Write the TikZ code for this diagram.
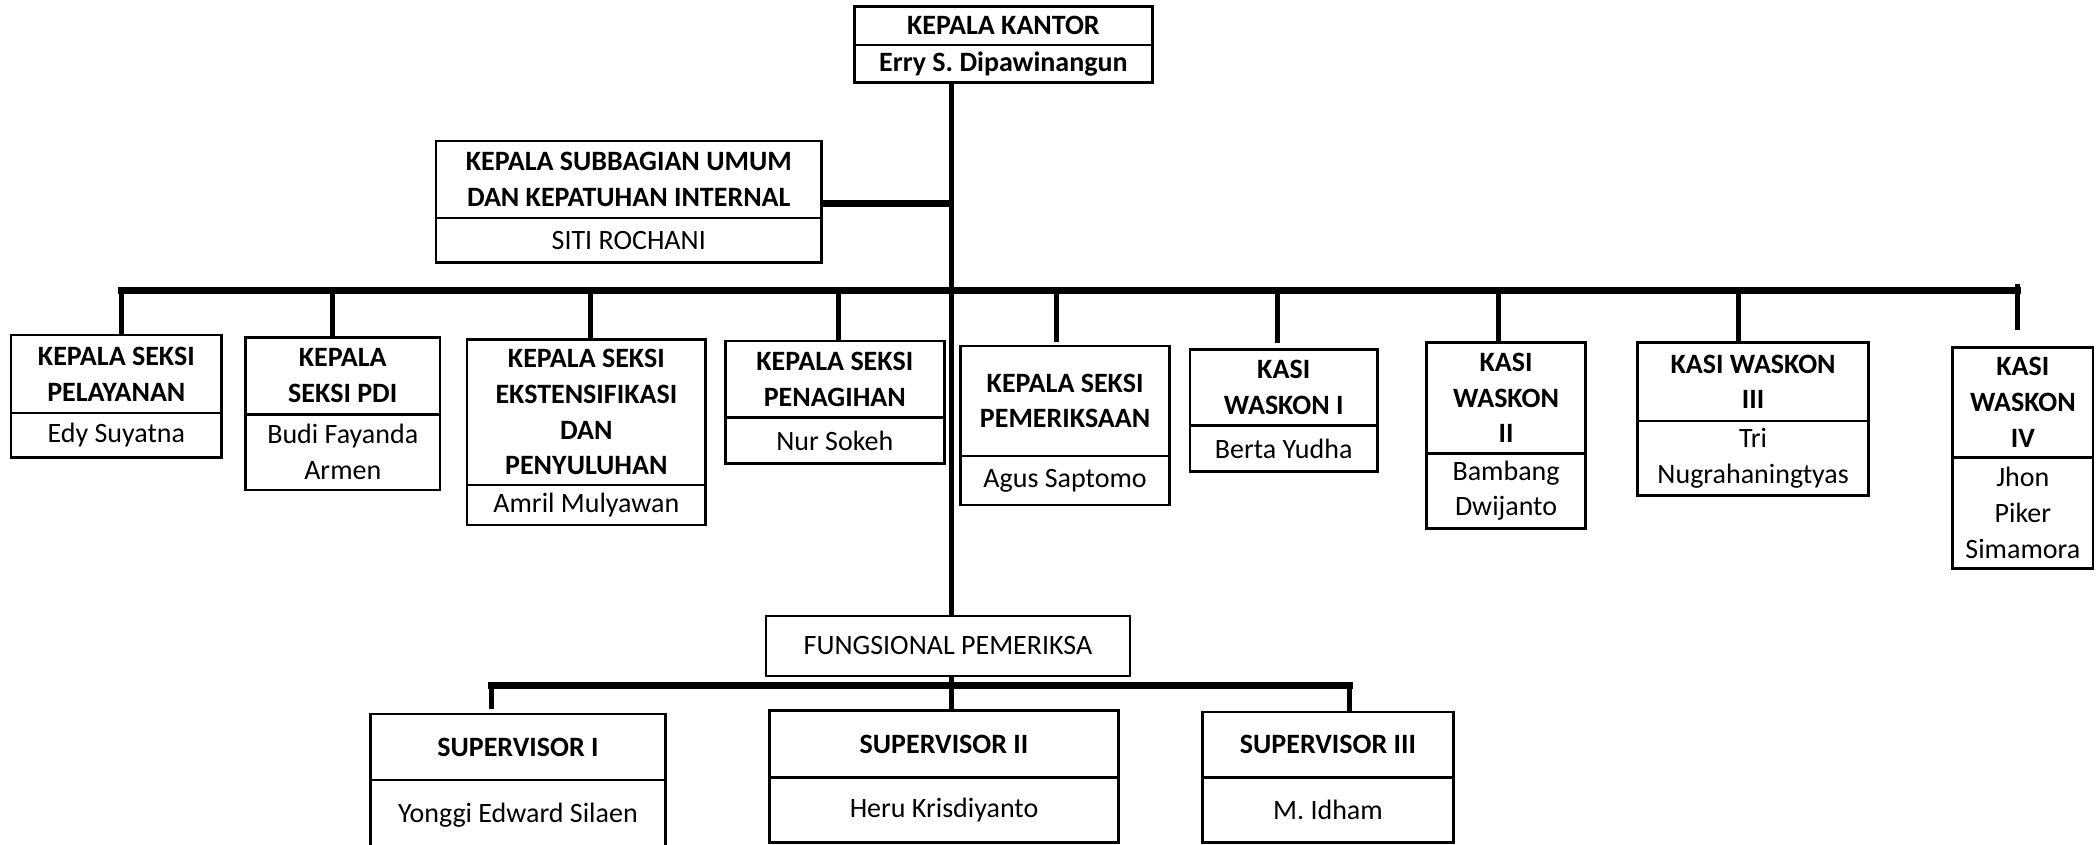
\documentclass[tikz,border=0pt]{standalone}
\usepackage{fontspec}
\setmainfont{Carlito}
\tikzset{
  hd/.style={draw, line width=2.8pt, inner sep=0pt, align=center, font=\fontsize{28}{35.7}\selectfont\bfseries},
  nm/.style={draw, line width=2.8pt, inner sep=0pt, align=center, font=\fontsize{28}{35.7}\selectfont},
  conn/.style={line width=5pt},
  bus/.style={line width=7pt, line cap=rect},
}
\newcommand\obox[8]{%
 \node[hd, minimum width={#5-#2}, minimum height={#4-#3}] (#1-h) at ({(#2+#5)/2},{(#3+#4)/2}) {#7};
 \node[nm, minimum width={#5-#2}, minimum height={#6-#4}] (#1-n) at ({(#2+#5)/2},{(#4+#6)/2}) {#8};
}
\begin{document}
\begin{tikzpicture}[x=1pt,y=-1pt]
\useasboundingbox (0,0) rectangle (2096,844);
% boxes
\obox{kk}{854.4}{6.7}{45}{1152.4}{82.7}{KEPALA KANTOR}{\textbf{Erry S. Dipawinangun}}
\obox{sb}{436}{141}{218}{821.5}{262.7}{KEPALA SUBBAGIAN UMUM\\DAN KEPATUHAN INTERNAL}{SITI ROCHANI}
\obox{b1}{11}{335}{413}{221.7}{457.7}{KEPALA SEKSI\\PELAYANAN}{Edy Suyatna}
\obox{b2}{245.5}{337.3}{414.3}{440}{490}{KEPALA\\SEKSI PDI}{Budi Fayanda\\Armen}
\obox{b3}{467}{339.3}{485}{705.7}{525}{KEPALA SEKSI\\EKSTENSIFIKASI\\DAN\\PENYULUHAN}{Amril Mulyawan}
\obox{b4}{725.4}{341}{417.7}{944.2}{463.3}{KEPALA SEKSI\\PENAGIHAN}{Nur Sokeh}
\obox{b5}{960.4}{346}{456}{1169.8}{505}{KEPALA SEKSI\\PEMERIKSAAN}{Agus Saptomo}
\obox{b6}{1190}{349.3}{425.7}{1377.4}{471.7}{KASI\\WASKON I}{Berta Yudha}
\obox{b7}{1426.4}{342.7}{453.3}{1585.7}{528.3}{KASI\\WASKON\\II}{Bambang\\Dwijanto}
\obox{b8}{1637.4}{342.7}{421}{1868.8}{495.7}{KASI WASKON\\III}{Tri\\Nugrahaningtyas}
\obox{b9}{1952.7}{347.3}{457.3}{2093}{568.3}{KASI\\WASKON\\IV}{Jhon\\Piker\\Simamora}
\node[nm, minimum width=364pt, minimum height=60pt] (fung) at (948,646) {FUNGSIONAL PEMERIKSA};
\obox{s1}{370.5}{714}{780}{665.4}{850}{SUPERVISOR I}{Yonggi Edward Silaen}
\obox{s2}{769.5}{710.7}{777.7}{1118.6}{842.5}{SUPERVISOR II}{Heru Krisdiyanto}
\obox{s3}{1202.2}{712}{777.3}{1453.8}{842.5}{SUPERVISOR III}{M. Idham}
% trunk
\coordinate (tT) at (951,82.7);
\draw[conn] (kk-n.south -| tT) -- (fung.north -| tT);
\coordinate (sbc) at (951,203);
\draw[bus, line cap=butt] (sb-h.east |- sbc) -- (sbc);
% main bus
\coordinate (busL) at (121,290);
\coordinate (busR) at (2017,290);
\draw[bus] (busL) -- (busR);
\coordinate (d1) at (121,290);   \draw[conn] (d1) -- (d1 |- b1-h.north);
\coordinate (d2) at (332.5,290); \draw[conn] (d2) -- (d2 |- b2-h.north);
\coordinate (d3) at (590.7,290); \draw[conn] (d3) -- (d3 |- b3-h.north);
\coordinate (d4) at (838.3,290); \draw[conn] (d4) -- (d4 |- b4-h.north);
\coordinate (d5) at (1056,290);  \coordinate (d5e) at (1056,342); \draw[conn] (d5) -- (d5e);
\coordinate (d6) at (1277.5,290); \coordinate (d6e) at (1277.5,343); \draw[conn] (d6) -- (d6e);
\coordinate (d7) at (1498.4,290); \draw[conn] (d7) -- (d7 |- b7-h.north);
\coordinate (d8) at (1738.8,290); \draw[conn] (d8) -- (d8 |- b8-h.north);
\coordinate (d9) at (2017,284);  \coordinate (d9e) at (2017,330); \draw[conn] (d9) -- (d9e);
% lower
\draw[conn] (fung.south -| tT) -- (s2-h.north -| tT);
\coordinate (lbL) at (491.5,685);
\coordinate (lbR) at (1349,685);
\draw[bus] (lbL) -- (lbR);
\coordinate (lbLe) at (491.5,709);
\draw[conn] (lbL) -- (lbLe);
\draw[conn] (lbR) -- (lbR |- s3-h.north);
\end{tikzpicture}
\end{document}
